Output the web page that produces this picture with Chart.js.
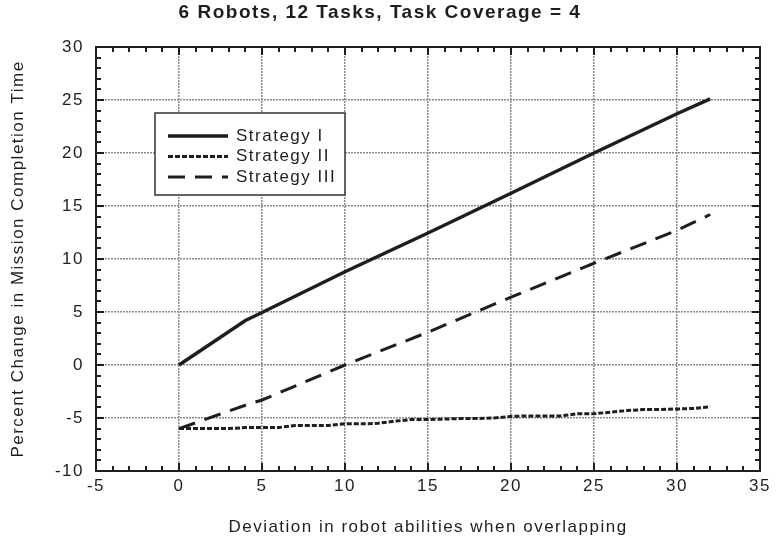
<!DOCTYPE html>
<html>
<head>
<meta charset="utf-8">
<script src="https://cdn.jsdelivr.net/npm/chart.js@4.4.1/dist/chart.umd.min.js"></script>
<style>
  html, body { margin: 0; padding: 0; background: #fff; }
  #wrap { width: 776px; height: 548px; position: relative; }
</style>
</head>
<body>
<div id="wrap"><canvas id="chart"></canvas></div>
<script>
/* Percent change in mission completion time vs. robot ability deviation */

const TITLE = '6 Robots, 12 Tasks, Task Coverage = 4';
const X_TITLE = 'Deviation in robot abilities when overlapping';
const Y_TITLE = 'Percent Change in Mission Completion Time';

const X_RANGE = [-5, 35];
const Y_RANGE = [-10, 30];

const S1_X = [0, 4, 5, 10, 15, 20, 25, 30, 32];
const S1_Y = [0, 4.2, 4.95, 8.8, 12.45, 16.2, 20.0, 23.7, 25.1];

const S2_X = [0, 1, 2, 3, 4, 5, 6, 7, 8, 9, 10, 11, 12, 13, 14, 15, 16,
  17, 18, 19, 20, 21, 22, 23, 24, 25, 26, 27, 28, 29, 30, 31, 32];
const S2_Y = [-6.0, -6.0, -6.0, -6.0, -5.9, -5.9, -5.9, -5.7, -5.7, -5.7, -5.55, -5.55, -5.5,
  -5.3, -5.15, -5.15, -5.1, -5.05, -5.05, -5.0, -4.85, -4.8, -4.8, -4.8, -4.6, -4.6,
  -4.45, -4.3, -4.2, -4.2, -4.15, -4.1, -3.95];

const S3_X = [0, 4, 5, 10, 15, 20, 25, 30, 32];
const S3_Y = [-6.0, -3.8, -3.3, 0, 3.1, 6.4, 9.6, 12.7, 14.2];

const LABELS = ['Strategy I', 'Strategy II', 'Strategy III'];

const FONT = "'Liberation Sans', Arial, sans-serif";
const INK = '#1e1e1e';
const SPACING = '1.5px';

const pts = (xs, ys) => xs.map((x, i) => ({ x, y: ys[i] }));

// the original figure has loosely spaced lettering
const spacingPlugin = {
  id: 'spacing',
  beforeLayout(chart) { chart.ctx.letterSpacing = SPACING; },
  beforeDraw(chart) { chart.ctx.letterSpacing = SPACING; }
};

// inside tick marks, plot frame and the boxed legend
const framePlugin = {
  id: 'frame',
  afterDatasetsDraw(chart) {
    const { ctx, chartArea: a, scales: { x, y } } = chart;
    ctx.save();
    ctx.strokeStyle = INK;
    ctx.lineWidth = 2;
    ctx.beginPath();
    for (let v = X_RANGE[0] + 1; v < X_RANGE[1]; v++) {
      const px = Math.round(x.getPixelForValue(v));
      const len = v % 5 === 0 ? 8 : 5;
      ctx.moveTo(px, a.bottom); ctx.lineTo(px, a.bottom - len);
      ctx.moveTo(px, a.top); ctx.lineTo(px, a.top + len);
    }
    for (let v = Y_RANGE[0] + 1; v < Y_RANGE[1]; v++) {
      const py = Math.round(y.getPixelForValue(v));
      const len = v % 5 === 0 ? 8 : 5;
      ctx.moveTo(a.left, py); ctx.lineTo(a.left + len, py);
      ctx.moveTo(a.right, py); ctx.lineTo(a.right - len, py);
    }
    ctx.stroke();
    ctx.strokeRect(a.left, a.top, a.right - a.left, a.bottom - a.top);

    // legend
    const bx = a.left + 59, by = a.top + 66, bw = 190, bh = 82;
    ctx.fillStyle = '#fff';
    ctx.fillRect(bx, by, bw, bh);
    ctx.lineWidth = 1.5;
    ctx.strokeStyle = '#333';
    ctx.strokeRect(bx, by, bw, bh);
    ctx.font = '17px ' + FONT;
    ctx.textBaseline = 'middle';
    chart.data.datasets.forEach((ds, i) => {
      const ly = by + 23 + i * 20.5;
      ctx.strokeStyle = ds.borderColor;
      ctx.lineWidth = ds.borderWidth;
      ctx.setLineDash(ds.borderDash || []);
      ctx.beginPath();
      ctx.moveTo(bx + 13, ly); ctx.lineTo(bx + 73, ly);
      ctx.stroke();
      ctx.setLineDash([]);
      ctx.fillStyle = INK;
      ctx.fillText(ds.label, bx + 81, ly);
    });
    ctx.restore();
  }
};

const lineDs = (label, data, dash, width) => ({
  label, data, borderColor: INK, backgroundColor: INK, borderWidth: width,
  borderDash: dash, pointRadius: 0, tension: 0, fill: false, borderCapStyle: 'butt'
});

new Chart(document.getElementById('chart'), {
  type: 'line',
  data: {
    datasets: [
      lineDs(LABELS[0], pts(S1_X, S1_Y), [], 3.5),
      lineDs(LABELS[1], pts(S2_X, S2_Y), [5, 2], 3),
      lineDs(LABELS[2], pts(S3_X, S3_Y), [17, 10], 3),
    ]
  },
  options: {
    responsive: true,
    maintainAspectRatio: false,
    animation: false,
    layout: { padding: { left: 0, right: 16, top: 0, bottom: 0 } },
    plugins: {
      legend: { display: false },
      tooltip: { enabled: false },
      title: {
        display: true, text: TITLE, color: INK,
        font: { family: FONT, size: 19, weight: 'bold' },
        padding: { top: 1.6, bottom: 22.6 }
      }
    },
    scales: {
      x: {
        type: 'linear', min: X_RANGE[0], max: X_RANGE[1],
        ticks: { stepSize: 5, color: INK, padding: 5, font: { family: FONT, size: 17 } },
        grid: { color: '#8a8a8a', lineWidth: 1.5, drawTicks: false },
        border: { display: false, dash: [2, 1] },
        title: { display: true, text: X_TITLE, color: INK,
          font: { family: FONT, size: 17 }, padding: { top: 0, bottom: 10.8 } },
        afterFit: s => { s.height = 77; }
      },
      y: {
        type: 'linear', min: Y_RANGE[0], max: Y_RANGE[1],
        ticks: { stepSize: 5, color: INK, padding: 12, font: { family: FONT, size: 17 } },
        grid: { color: '#8a8a8a', lineWidth: 1.5, drawTicks: false },
        border: { display: false, dash: [2, 1] },
        title: { display: true, text: Y_TITLE, color: INK,
          font: { family: FONT, size: 17 }, padding: { top: 7.8, bottom: 0 } },
        afterFit: s => { s.width = 96; }
      }
    }
  },
  plugins: [spacingPlugin, framePlugin]
});
</script>
</body>
</html>
